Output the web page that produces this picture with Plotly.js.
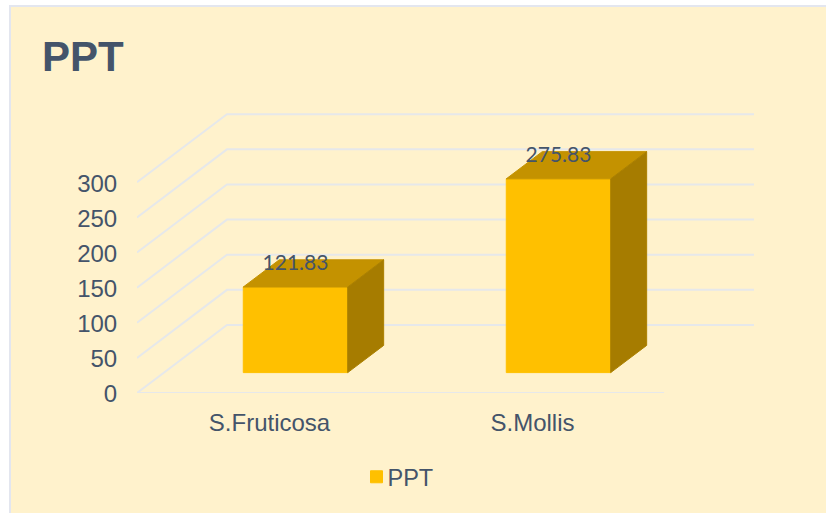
<!DOCTYPE html>
<html>
<head>
<meta charset="utf-8">
<script src="https://cdn.plot.ly/plotly-3.0.1.min.js"></script>
<style>
html,body{margin:0;padding:0;background:#fff;width:826px;height:513px;overflow:hidden}
#card{position:absolute;left:9px;top:5px;width:900px;height:600px;background:#FFF2CC;border:2px solid #E3E6EF;box-sizing:border-box}
#chart{position:absolute;left:0;top:0;width:826px;height:513px}
#chart .ytick{transform:translateY(1px)}
#chart .xtick{transform:translateX(1px)}
#chart .legend .legendtext{transform:translateX(-9px)}
</style>
</head>
<body>
<div id="card"></div>
<div id="chart"></div>
<script>
const categories = ["S.Fruticosa", "S.Mollis"];
const values = [121.83, 275.83];
const labels = ["121.83", "275.83"];
const seriesName = "PPT";
const yTicks = [0, 50, 100, 150, 200, 250, 300];
const catPos = [0, 1];
const xStart = -0.5, xEnd = 1.504, xMax = 1.846, yMax = 400;

// oblique projection of the 3-D depth axis, expressed in axis units
const depthX = 0.342, depthY = 96.8;
const barFront = 0.3, barBack = 0.7, barWidth = 0.397;

const gx = [], gy = [];
yTicks.forEach(v => {
  gx.push(xStart, xStart + depthX, xEnd + depthX, null);
  gy.push(v, v + depthY, v + depthY, null);
});
gx.push(xStart, xEnd, null);
gy.push(0, 0, null);

// gridlines live on the base axes; the bars are on overlaying axes so they sit on top
const traces = [{
  type: "scatter", mode: "lines", x: gx, y: gy, showlegend: false, hoverinfo: "skip",
  line: {color: "#E6E8EA", width: 2}, cliponaxis: false
}];

values.forEach((v, i) => {
  const c = catPos[i];
  const L = c - barWidth / 2, R = c + barWidth / 2;
  const fx = barFront * depthX, bx = barBack * depthX;
  const fy = barFront * depthY, by = barBack * depthY;
  traces.push({
    type: "scatter", mode: "lines", fill: "toself", fillcolor: "#C49200", showlegend: false, hoverinfo: "skip",
    xaxis: "x2", yaxis: "y2",
    line: {color: "#C49200", width: 1},
    x: [L + fx, R + fx, R + bx, L + bx, L + fx],
    y: [v + fy, v + fy, v + by, v + by, v + fy]
  });
  traces.push({
    type: "scatter", mode: "lines", fill: "toself", fillcolor: "#A67C00", showlegend: false, hoverinfo: "skip",
    xaxis: "x2", yaxis: "y2",
    line: {color: "#AC8100", width: 1},
    x: [R + fx, R + bx, R + bx, R + fx, R + fx],
    y: [fy, by, v + by, v + fy, fy]
  });
});

traces.push({
  type: "bar", name: seriesName, showlegend: true, hoverinfo: "skip",
  xaxis: "x2", yaxis: "y2",
  x: catPos.map(c => c + barFront * depthX),
  y: values,
  base: values.map(() => barFront * depthY),
  width: barWidth,
  marker: {color: "#FFC000", line: {color: "#FFC000", width: 1}}
});

traces.push({
  type: "scatter", mode: "text", showlegend: false, hoverinfo: "skip", cliponaxis: false,
  xaxis: "x2", yaxis: "y2",
  x: catPos.map(c => c + barFront * depthX),
  y: values.map(v => v + barBack * depthY - 7),
  text: labels, textposition: "middle center",
  textfont: {family: "Lato, 'Open Sans', sans-serif", size: 21, color: "#44546A"}
});

const layout = {
  width: 826, height: 513,
  margin: {l: 137, r: 72, t: 112, b: 120, pad: 0},
  paper_bgcolor: "rgba(0,0,0,0)", plot_bgcolor: "rgba(0,0,0,0)",
  font: {family: "'Liberation Sans', Arial, sans-serif", color: "#44546A", size: 24},
  title: {
    text: "<b>PPT</b>", xref: "container", yref: "container",
    x: 42 / 826, xanchor: "left", y: 1 - 56 / 513, yanchor: "middle",
    font: {family: "'Liberation Sans', Arial, sans-serif", size: 42, color: "#44546A"}
  },
  barmode: "overlay",
  xaxis: {
    type: "linear", range: [xStart, xMax], tickmode: "array", tickvals: catPos, ticktext: categories,
    showgrid: false, zeroline: false, showline: false, ticks: "outside", ticklen: 8, tickcolor: "rgba(0,0,0,0)",
    tickfont: {size: 24, color: "#44546A"}
  },
  yaxis: {
    range: [0, yMax], tickmode: "array", tickvals: yTicks, ticktext: yTicks.map(String),
    showgrid: false, zeroline: false, showline: false, ticks: "outside", ticklen: 14, tickcolor: "rgba(0,0,0,0)",
    tickfont: {size: 24, color: "#44546A"}
  },
  xaxis2: {overlaying: "x", anchor: "y2", type: "linear", range: [xStart, xMax], visible: false},
  yaxis2: {overlaying: "y", anchor: "x2", range: [0, yMax], visible: false},
  legend: {
    orientation: "h", x: 0.5 - 11 / 826, xref: "container", xanchor: "center", y: 1 - 477 / 513, yref: "container", yanchor: "middle",
    font: {size: 23.5, color: "#44546A"}, bgcolor: "rgba(0,0,0,0)"
  }
};
Plotly.newPlot("chart", traces, layout, {displayModeBar: false, staticPlot: true});
</script>
</body>
</html>
